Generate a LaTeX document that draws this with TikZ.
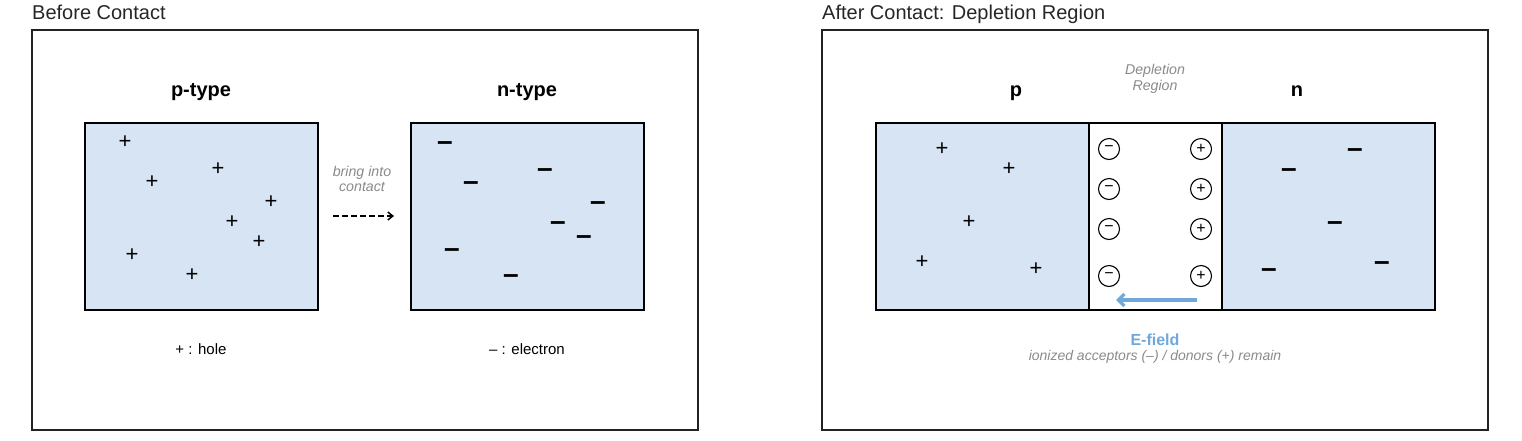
\documentclass[tikz,border=0pt]{standalone}
\usepackage{fontspec}
\setmainfont{Liberation Sans}
\usetikzlibrary{arrows.meta}
\definecolor{fillblue}{HTML}{D6E4F3}
\definecolor{efield}{HTML}{6FA8DC}
\definecolor{note}{HTML}{8A8A8A}
\definecolor{frame}{HTML}{222222}
\tikzset{
  x=1pt,y=-1pt,
  panel/.style={draw=frame,line width=1.3pt},
  semi/.style={draw=black,line width=1.8pt,fill=fillblue},
  hole/.style={inner sep=0pt,font=\fontsize{22}{22}\selectfont},
  elec/.style={inner sep=0pt,yshift=-3.5pt,font=\fontsize{28}{28}\selectfont\bfseries},
  title/.style={anchor=base west,inner sep=0pt,font=\fontsize{20}{20}\selectfont,text=black!85},
  head/.style={anchor=base,inner sep=0pt,font=\fontsize{20}{20}\selectfont\bfseries},
  legend/.style={anchor=base,inner sep=0pt,font=\fontsize{15}{15}\selectfont},
  notes/.style={inner sep=0pt,align=center,text=note,font=\fontsize{14.2}{15.5}\selectfont\itshape},
  ion/.style={circle,draw=black,line width=1.1pt,minimum size=21pt,inner sep=0pt,font=\fontsize{16}{16}\selectfont},
}
\begin{document}
\begin{tikzpicture}
\useasboundingbox (0,0) rectangle (1522,440);
% titles
\node[title] (t1) at (32,19) {Before Contact};
\node[title] (t2) at (822,19) {After Contact: Depletion Region};
% frames
\draw[panel] (32,30) rectangle (698,430);
\draw[panel] (822,30) rectangle (1488,430);
% ---- left panel
\node[head] (ph) at (201,96) {p-type};
\node[head] (nh) at (527,96) {n-type};
\node[draw=black,line width=1.8pt,fill=fillblue,minimum width=233pt,minimum height=187pt,inner sep=0pt] (pbox) at (201.5,216.5) {};
\node[draw=black,line width=1.8pt,fill=fillblue,minimum width=233pt,minimum height=187pt,inner sep=0pt] (nbox) at (527.5,216.5) {};
\foreach \x/\y [count=\i] in {125/142,152/182,218/169,271/202,232/222,259/242,132/255,192/275}
  \node[hole] (h\i) at (\x,\y) {+};
\foreach \x/\y [count=\i] in {445/143,471/183,545/170,598/203,558/223,584/237,452/250,511/276}
  \node[elec] (e\i) at (\x,\y) {–};
\node[notes] (bring) at (362,179) {bring into\\contact};
\coordinate (a1) at (333,216);
\coordinate (a2) at (394,216);
\draw[line width=1.5pt,dash pattern=on 6pt off 3pt,-{Straight Barb[length=5pt,width=8pt]}] (a1) -- (a2);
\node[legend] (lh) at (201,354) {+ : hole};
\node[legend] (le) at (527,354) {– : electron};
% ---- right panel
\node[head] (rp) at (1016,96) {p};
\node[head] (rn) at (1297,96) {n};
\node[notes] (dep) at (1155,79) {Depletion\\Region};
\draw[semi] (876,123) rectangle (1089,310);
\draw[draw=black,line width=1.8pt,fill=white] (1089,123) rectangle (1222,310);
\draw[semi] (1222,123) rectangle (1435,310);
\foreach \x/\y [count=\i] in {942/149,1009/169,969/222,922/262,1036/269}
  \node[hole] (rh\i) at (\x,\y) {+};
\foreach \x/\y [count=\i] in {1355/150,1289/170,1335/223,1269/270,1382/263}
  \node[elec] (re\i) at (\x,\y) {–};
\foreach \y [count=\i] in {149,189,229,276}{
  \node[ion] (acc\i) at (1109,\y) {−};
  \node[ion] (don\i) at (1201,\y) {+};
}
\coordinate (ef1) at (1197,300);
\coordinate (ef2) at (1116,300);
\draw[efield,line width=3.2pt,-{Straight Barb[length=6pt,width=12pt]}] (ef1) -- (ef2);
\node[anchor=base,inner sep=0pt,text=efield,font=\fontsize{16}{16}\selectfont\bfseries] (ef) at (1155,345) {E-field};
\node[anchor=base,inner sep=0pt,text=note,font=\fontsize{14}{14}\selectfont\itshape] (ion) at (1155,360) {ionized acceptors (–) / donors (+) remain};
\end{tikzpicture}
\end{document}
